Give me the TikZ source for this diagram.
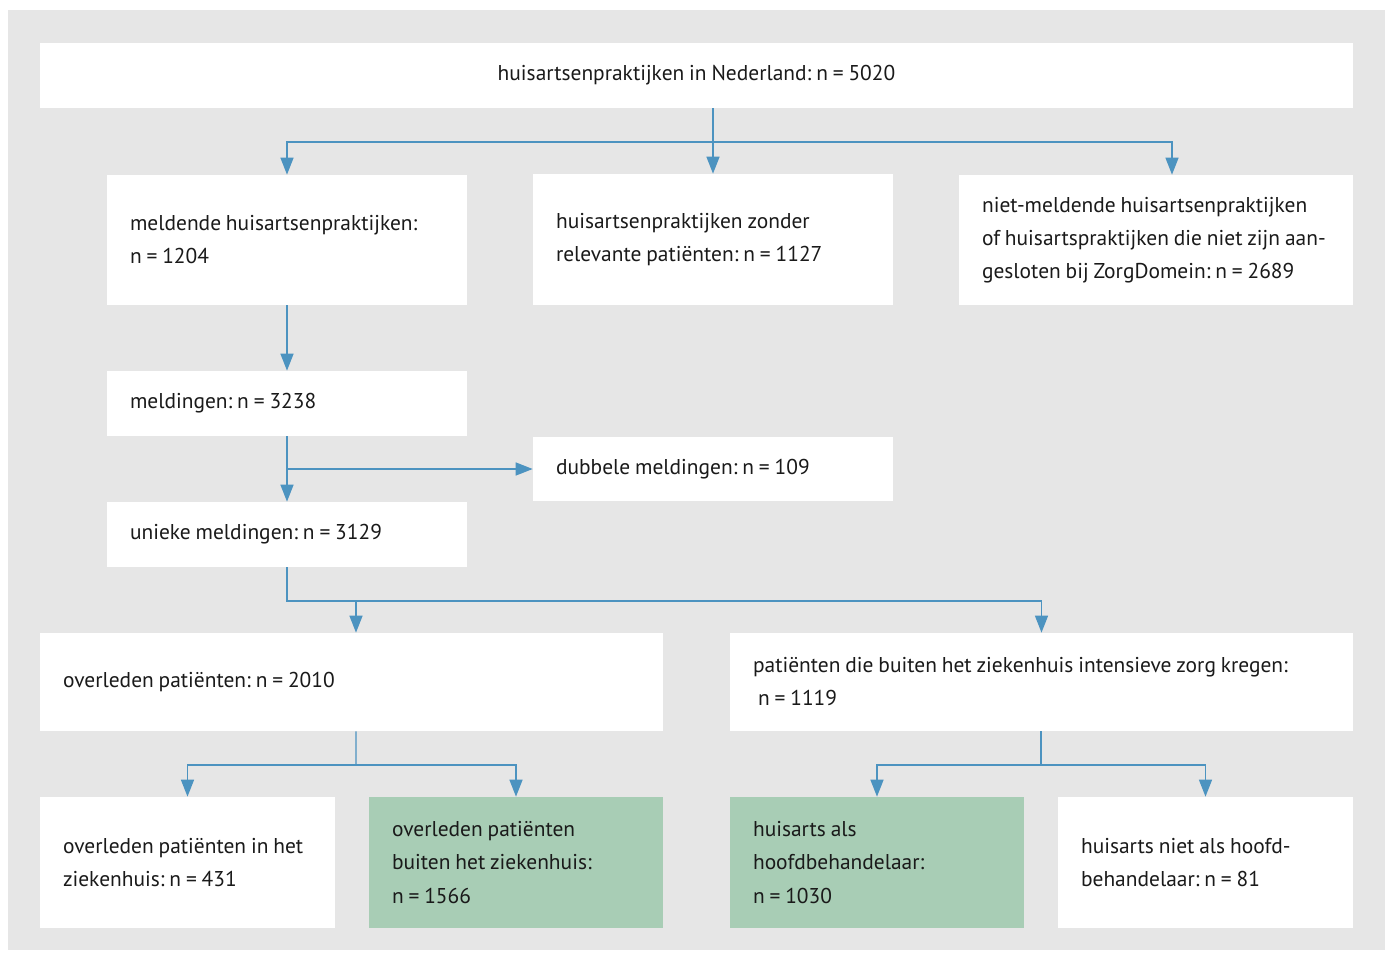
\documentclass[tikz,border=0pt]{standalone}
\usepackage{fontspec}
\setmainfont[WordSpace=0.85]{PT Sans}
\frenchspacing
\usetikzlibrary{positioning,arrows.meta}
\definecolor{bggrey}{HTML}{E6E6E6}
\definecolor{boxgreen}{HTML}{A8CDB5}
\definecolor{linkblue}{HTML}{4C93C0}
\definecolor{txt}{HTML}{1A1A1A}
\tikzset{
  box/.style={rectangle, fill=white, inner xsep=0.46cm, inner ysep=0pt, align=flush left,
    text=txt, font=\fontsize{12.2}{18.8}\selectfont, minimum height=#1},
  box/.default=1.3cm,
  greenbox/.style={box=#1, fill=boxgreen},
  link/.style={draw=linkblue, line width=0.8pt},
  arr/.style={link, -{Triangle[width=0.26cm,length=0.34cm]}}
}
\begin{document}
\begin{tikzpicture}[x=0.02cm, y=-0.02cm]
\useasboundingbox (0,0) rectangle (1389,953);
\fill[bggrey] (8,10) rectangle (1385,950);
% top
\node[box, minimum width=26.26cm, align=center] (prak) at (696.5,75.5) {huisartsenpraktijken in Nederland: n = 5020};
% second row
\node[box=2.6cm, text width=6.28cm] (meldend) at (287,240) {meldende huisartsenpraktijken:\\n = 1204};
\node[box=2.62cm, text width=6.28cm] (zonder) at (713,239.5) {huisartsenpraktijken zonder\\relevante patiënten: n = 1127};
\node[box=2.6cm, text width=6.96cm] (nietmeld) at (1156,240) {niet-meldende huisartsenpraktijken\\\mbox{of huisartspraktijken die niet zijn aan-}\\gesloten bij ZorgDomein: n = 2689};
% meldingen
\node[box, text width=6.28cm] (meld) at (287,403.5) {meldingen: n = 3238};
\node[box=1.28cm, text width=6.28cm] (dubbel) at (713,469) {dubbele meldingen: n = 109};
\node[box, text width=6.28cm] (uniek) at (287,534.5) {unieke meldingen: n = 3129};
% patients
\node[box=1.96cm, text width=11.54cm] (overl) at (351.5,682) {overleden patiënten: n = 2010};
\node[box=1.96cm, text width=11.54cm] (intens) at (1041.5,682) {patiënten die buiten het ziekenhuis intensieve zorg kregen:\\\hspace*{0.1cm}n = 1119};
% bottom row
\node[box=2.62cm, text width=4.98cm] (inzh) at (187.5,862.5) {\mbox{overleden patiënten in het}\\ziekenhuis: n = 431};
\node[greenbox=2.62cm, text width=4.96cm] (buitzh) at (516,862.5) {overleden patiënten\\buiten het ziekenhuis:\\n = 1566};
\node[greenbox=2.62cm, text width=4.96cm] (hoofd) at (877,862.5) {huisarts als\\hoofdbehandelaar:\\n = 1030};
\node[box=2.62cm, text width=4.98cm] (niethoofd) at (1205.5,862.5) {huisarts niet als hoofd-\\behandelaar: n = 81};
% connectors
\coordinate (j1) at (713,142);
\draw[link] (prak.south -| j1) -- (j1);
\draw[arr] (j1) -| (meldend.north);
\draw[arr] (j1) -- (zonder.north);
\draw[arr] (j1) -| ([xshift=0.32cm]nietmeld.north);
\draw[arr] (meldend.south) -- (meld.north);
\draw[arr] (meld.south) -- (uniek.north);
\draw[arr] (dubbel.west -| meld.south) -- (dubbel.west);
\coordinate (j2) at (287,601);
\coordinate (ovtop) at ([xshift=0.09cm]overl.north);
\draw[arr] (uniek.south) -- (j2) -| (intens.north);
\draw[arr] (j2 -| ovtop) -- (ovtop);
\coordinate (j3) at (356,765);
\draw[link] (ovtop |- overl.south) -- (j3);
\draw[arr] (j3) -| (inzh.north);
\draw[arr] (j3) -| (buitzh.north);
\coordinate (j4) at (1041,765);
\draw[link] (j4 |- intens.south) -- (j4);
\draw[arr] (j4) -| (hoofd.north);
\draw[arr] (j4) -| (niethoofd.north);
\end{tikzpicture}
\end{document}
